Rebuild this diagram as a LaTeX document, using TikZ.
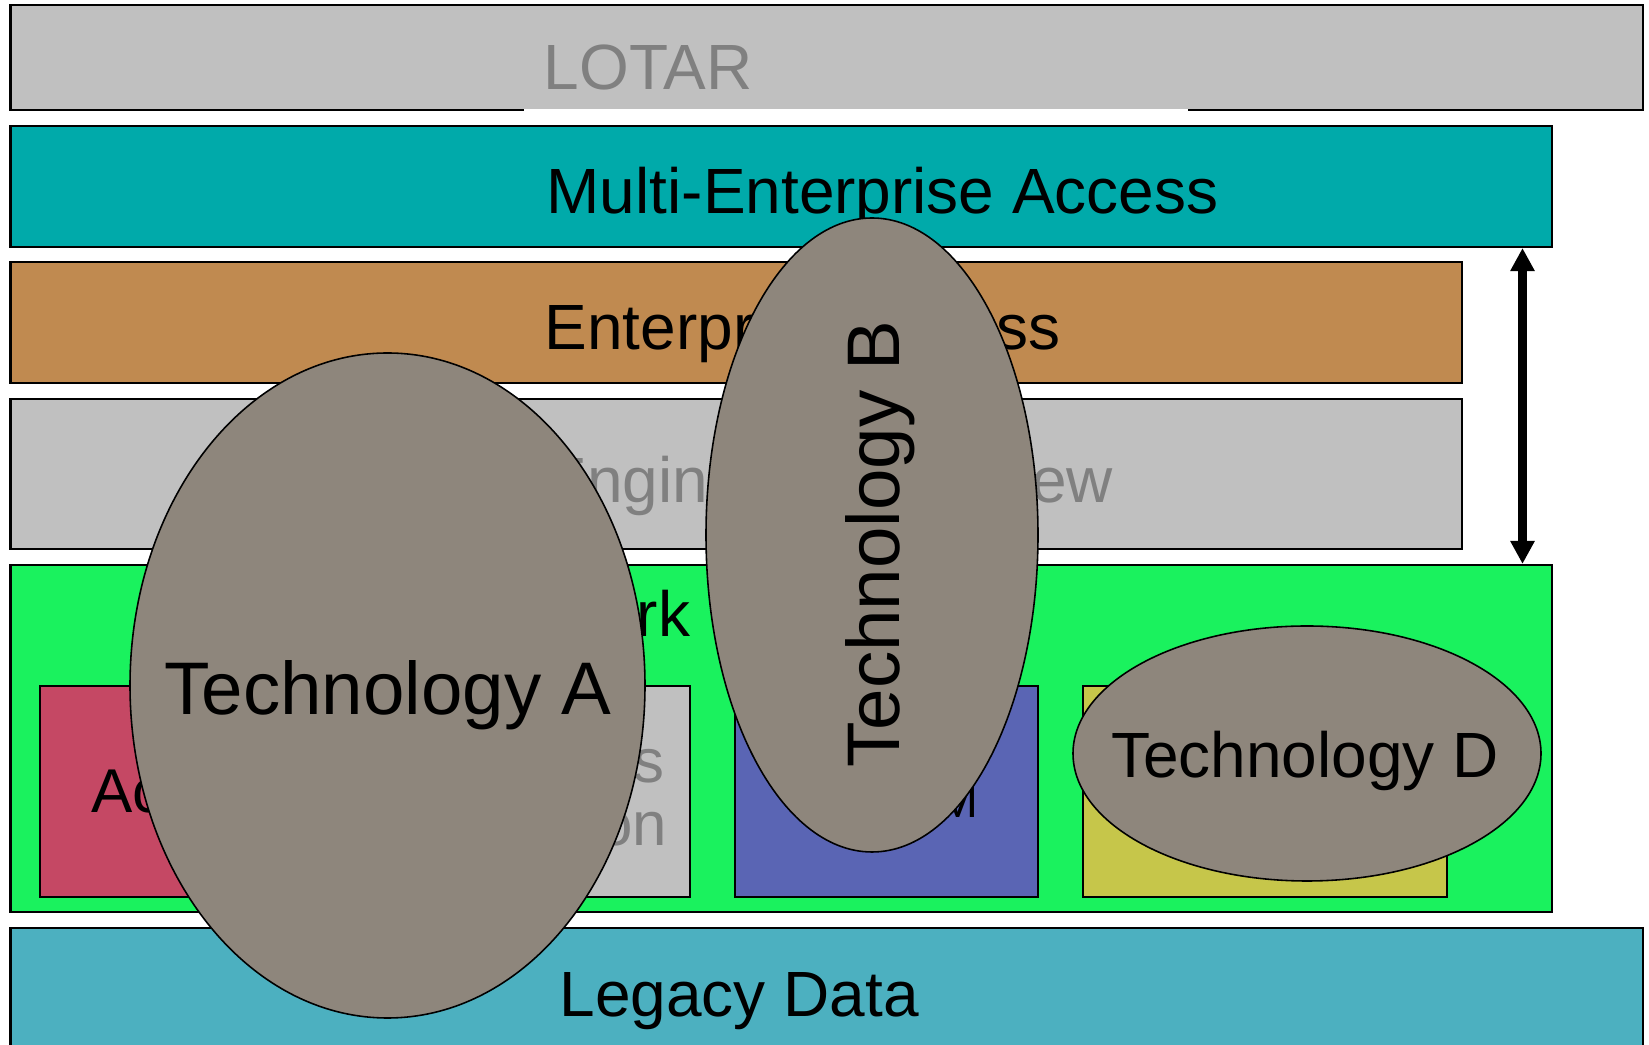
\documentclass[tikz,border=0pt]{standalone}
\usepackage{fontspec}
\setmainfont{Liberation Sans}
\usetikzlibrary{arrows.meta,shapes.geometric}

\definecolor{lotargray}{RGB}{192,192,192}
\definecolor{dimtext}{RGB}{128,128,128}
\definecolor{multiteal}{RGB}{0,170,170}
\definecolor{entbrown}{RGB}{192,138,80}
\definecolor{framegreen}{RGB}{26,242,94}
\definecolor{accessred}{RGB}{197,72,100}
\definecolor{pdmblue}{RGB}{90,101,180}
\definecolor{boxyellow}{RGB}{198,198,74}
\definecolor{legacyblue}{RGB}{76,176,192}
\definecolor{techgray}{RGB}{142,134,124}

\begin{document}
\begin{tikzpicture}[
  x=0.1mm, y=-0.1mm,
  >={Triangle[width=2.3mm,length=2.3mm]},
  layer/.style={rectangle, draw=black, line width=0.6pt, inner sep=0pt},
  subbox/.style={rectangle, draw=black, line width=0.5pt, inner sep=0pt, minimum height=21.1mm,
    font=\fontsize{17.6}{17.9}\selectfont},
  tech/.style={ellipse, draw=black, line width=0.45pt, fill=techgray, inner sep=0pt},
  lbl/.style={font=\fontsize{18.2}{18.2}\selectfont, inner sep=0pt},
  biglbl/.style={font=\fontsize{21.2}{22}\selectfont, inner sep=0pt},
]
  \useasboundingbox (0,0) rectangle (1649,1045);

  % Layers
  \node[layer, fill=lotargray, minimum width=163.25mm, minimum height=10.51mm] (lotar) at (826.75,57.85) {};
  \draw[white, line width=0.7pt] (524,110.4) -- (1188,110.4);
  \node[layer, fill=multiteal, minimum width=154.15mm, minimum height=12.1mm] (multi) at (781.25,186.5) {};
  \node[layer, fill=entbrown, minimum width=145.15mm, minimum height=12.1mm] (ent) at (736.25,322.5) {};
  \node[layer, fill=lotargray, minimum width=145.15mm, minimum height=15mm] (eng) at (736.25,474) {};
  \node[layer, fill=framegreen, minimum width=154.15mm, minimum height=34.7mm] (frame) at (781.25,738.5) {};
  \node[layer, fill=legacyblue, minimum width=163.25mm, minimum height=17.2mm] (legacy) at (826.75,1014) {};

  % Layer labels
  \node[lbl, anchor=base west, text=dimtext] (lotarlbl) at (543,89.4) {LOTAR};
  \node[lbl, anchor=base west] (multilbl) at (546,213.5) {Multi-Enterprise Access};
  \node[lbl, anchor=base west] (entlbl) at (544,350) {Enterprise Access};
  \node[lbl, anchor=base east, text=dimtext] (englbl) at (1114,503) {Engineering Review};
  \node[lbl, anchor=base east] (framelbl) at (691,637) {Framework};
  \node[lbl, anchor=base west] (legacylbl) at (559,1017) {Legacy Data};

  % Framework boxes
  \node[subbox, fill=accessred, minimum width=30.2mm] (access) at (191,791.5) {Access};
  \node[subbox, fill=lotargray, text=dimtext, align=center, minimum width=30.3mm] (busdef) at (538.5,791.5) {Business\\Definition};
  \node[subbox, fill=pdmblue, minimum width=30.3mm] (pdm) at (886.5,791.5) {};
  \node[font=\fontsize{14}{16}\selectfont, anchor=base east, inner sep=0pt] (pdmlbl) at (979,818) {PDM};
  \node[subbox, fill=boxyellow, minimum width=36.4mm] (yellowbox) at (1265,791.5) {};

  % Span arrow
  \coordinate (arrx) at (1522.5,0);
  \draw[<->, line width=2.3pt] (multi.south -| arrx) -- (frame.north -| arrx);

  % Technologies
  \node[tech, minimum width=51.5mm, minimum height=66.5mm] (techA) at (387.5,685.5) {};
  \node[tech, minimum width=33.2mm, minimum height=63.4mm] (techB) at (872,535) {};
  \node[tech, minimum width=46.8mm, minimum height=25.5mm] (techD) at (1307,753.5) {};
  \node[biglbl, anchor=base] (techAlbl) at (388,715) {Technology A};
  \node[biglbl, anchor=base, rotate=90] (techBlbl) at (899,544) {Technology B};
  \node[lbl, anchor=base] (techDlbl) at (1305,778) {Technology D};

\end{tikzpicture}
\end{document}
